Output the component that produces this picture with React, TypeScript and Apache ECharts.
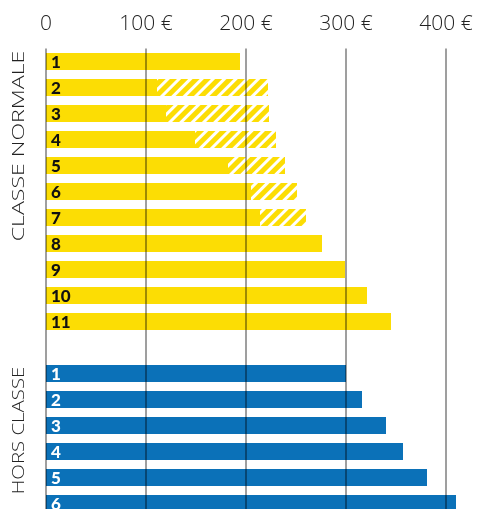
import React, { useEffect, useRef } from "react";
import * as echarts from "echarts";

const xTicks = [0, 100, 200, 300, 400];
const normaleRanks = ["1", "2", "3", "4", "5", "6", "7", "8", "9", "10", "11"];
const normaleSolid = [194, 111, 120, 149, 182, 205, 214, 276, 299, 321, 345];
const normaleHatchedEnd = [null, 222, 223, 230, 239, 251, 260, null, null, null, null];
const horsRanks = ["1", "2", "3", "4", "5", "6"];
const horsValues = [300, 316, 340, 357, 381, 410];

const YELLOW = "#FCDD04";
const BLUE = "#0B71B8";

export default function App() {
  const ref = useRef<HTMLDivElement>(null);
  useEffect(() => {
    if (!ref.current) return;
    const chart = echarts.init(ref.current, null, { renderer: "svg" });

    const categories: string[] = [];
    const baseData: any[] = [];
    const hatchData: any[] = [];
    normaleRanks.forEach((r, i) => {
      categories.push("N" + r);
      baseData.push({
        value: normaleSolid[i],
        rank: r,
        itemStyle: { color: YELLOW },
        label: { color: "#111" },
      });
      const end = normaleHatchedEnd[i];
      hatchData.push(end == null ? "-" : end - normaleSolid[i]);
    });
    categories.push("gap");
    baseData.push("-");
    hatchData.push("-");
    horsRanks.forEach((r, i) => {
      categories.push("H" + r);
      baseData.push({
        value: horsValues[i],
        rank: r,
        itemStyle: { color: BLUE },
        label: { color: "#fff" },
      });
      hatchData.push("-");
    });

    const sideText = (text: string, y: number, stretch: number) => ({
      type: "text",
      x: 17.5,
      y,
      rotation: Math.PI / 2,
      scaleX: stretch,
      style: {
        text,
        fontSize: 17,
        fontWeight: 300,
        fontFamily: "Open Sans",
        fill: "#222",
        textAlign: "center",
        textVerticalAlign: "middle",
      },
    });

    chart.setOption({
      animation: false,
      grid: { left: 46, top: 48.5, width: 400, height: 468 },
      xAxis: {
        type: "value",
        position: "top",
        min: xTicks[0],
        max: xTicks[xTicks.length - 1],
        interval: 100,
        z: 10,
        axisLine: { show: false },
        axisTick: { show: false },
        axisLabel: {
          margin: 16,
          fontSize: 21,
          fontWeight: 300,
          fontFamily: "Open Sans",
          color: "#222",
          formatter: (v: number) => (v === 0 ? "0" : v + " €"),
        },
        splitLine: { show: true, lineStyle: { color: "rgba(0,0,0,0.5)", width: 1.5 } },
      },
      yAxis: {
        type: "category",
        inverse: true,
        data: categories,
        show: false,
      },
      series: [
        {
          type: "bar",
          stack: "s",
          barWidth: 17,
          clip: false,
          data: baseData,
          label: {
            show: true,
            position: "insideLeft",
            distance: 5,
            fontSize: 17,
            fontWeight: 900,
            fontFamily: "Lato",
            formatter: (p: any) => (p.data && p.data.rank ? p.data.rank : ""),
          },
        },
        {
          type: "bar",
          stack: "s",
          barWidth: 17,
          clip: false,
          data: hatchData,
          itemStyle: {
            color: "#fff",
            decal: {
              symbol: "rect",
              symbolSize: 1,
              dashArrayX: [1, 0],
              dashArrayY: [5, 3],
              rotation: -Math.PI / 4,
              color: YELLOW,
            },
          },
        },
      ],
      graphic: [
        sideText("CLASSE NORMALE", 146, 1.36),
        sideText("HORS CLASSE", 430.5, 1.2),
      ],
    });
    return () => chart.dispose();
  }, []);
  return (
    <div
      ref={ref}
      style={{ position: "fixed", left: 0, top: 0, width: 478, height: 525 }}
    />
  );
}
